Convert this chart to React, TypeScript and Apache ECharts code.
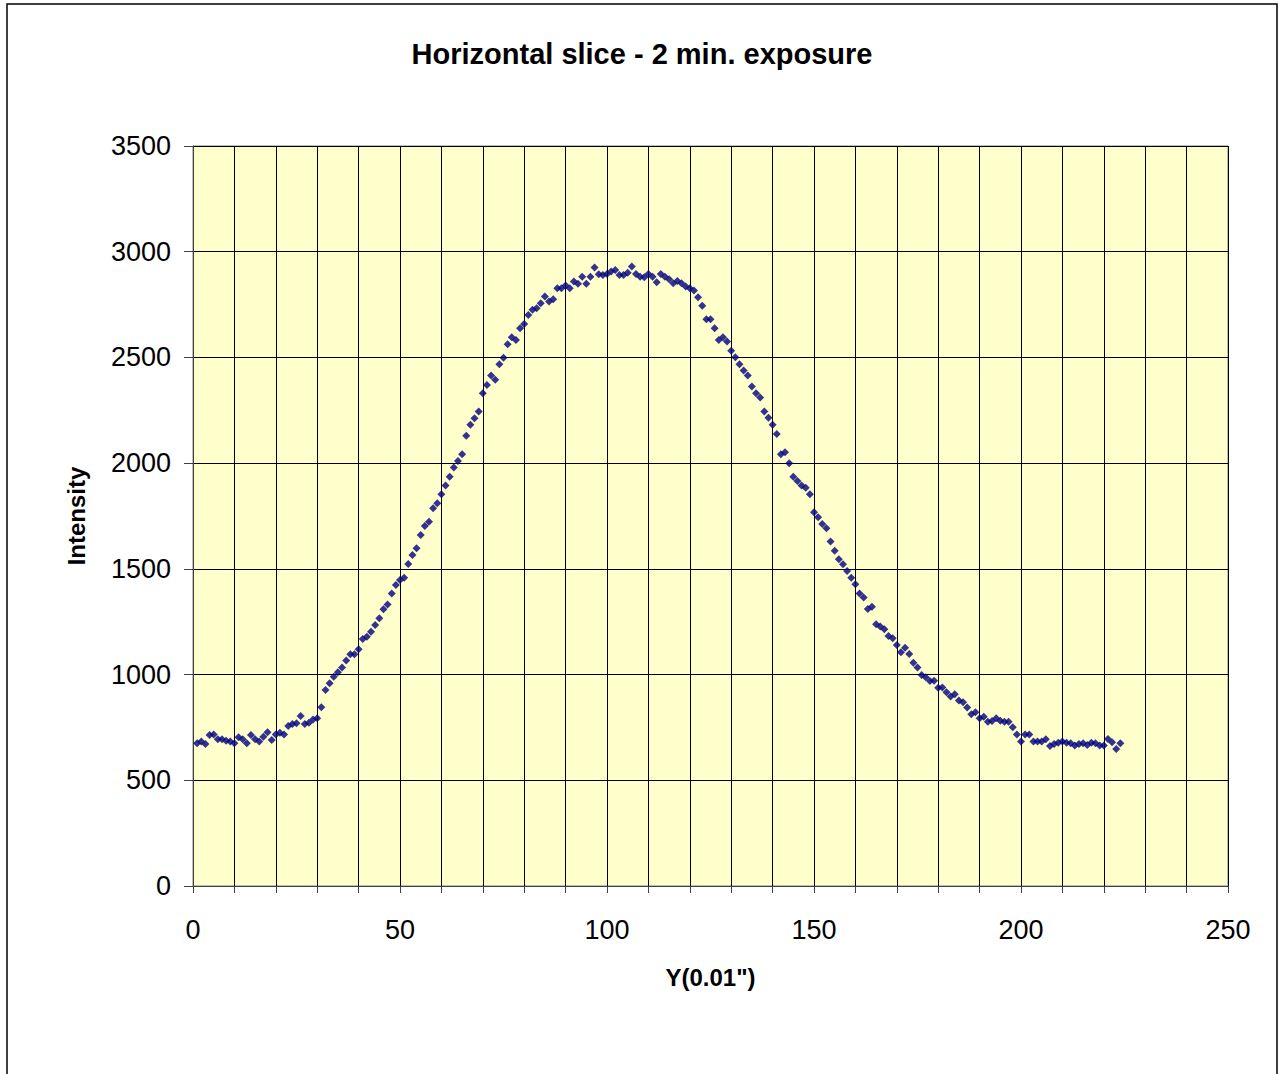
import React, { useEffect, useRef } from "react";
import * as echarts from "echarts";

const TITLE = "Horizontal slice - 2 min. exposure";
const X_NAME = 'Y(0.01")';
const Y_NAME = "Intensity";

const xValues: number[] = [
  1, 2, 3, 4, 5, 6, 7, 8, 9, 10, 11, 12, 13, 14, 15, 16, 17, 18, 19, 20,
  21, 22, 23, 24, 25, 26, 27, 28, 29, 30, 31, 32, 33, 34, 35, 36, 37, 38, 39, 40,
  41, 42, 43, 44, 45, 46, 47, 48, 49, 50, 51, 52, 53, 54, 55, 56, 57, 58, 59, 60,
  61, 62, 63, 64, 65, 66, 67, 68, 69, 70, 71, 72, 73, 74, 75, 76, 77, 78, 79, 80,
  81, 82, 83, 84, 85, 86, 87, 88, 89, 90, 91, 92, 93, 94, 95, 96, 97, 98, 99, 100,
  101, 102, 103, 104, 105, 106, 107, 108, 109, 110, 111, 112, 113, 114, 115, 116, 117, 118, 119, 120,
  121, 122, 123, 124, 125, 126, 127, 128, 129, 130, 131, 132, 133, 134, 135, 136, 137, 138, 139, 140,
  141, 142, 143, 144, 145, 146, 147, 148, 149, 150, 151, 152, 153, 154, 155, 156, 157, 158, 159, 160,
  161, 162, 163, 164, 165, 166, 167, 168, 169, 170, 171, 172, 173, 174, 175, 176, 177, 178, 179, 180,
  181, 182, 183, 184, 185, 186, 187, 188, 189, 190, 191, 192, 193, 194, 195, 196, 197, 198, 199, 200,
  201, 202, 203, 204, 205, 206, 207, 208, 209, 210, 211, 212, 213, 214, 215, 216, 217, 218, 219, 220,
  221, 222, 223, 224,
];

const intensity: number[] = [
  675, 683, 672, 714, 717, 694, 694, 687, 683, 675, 703, 694, 675, 714, 694, 683, 706, 727, 690, 717,
  725, 717, 757, 766, 770, 804, 766, 772, 788, 793, 845, 927, 959, 990, 1011, 1033, 1066, 1096, 1096, 1120,
  1168, 1179, 1203, 1235, 1266, 1309, 1332, 1384, 1424, 1447, 1458, 1523, 1566, 1597, 1660, 1703, 1723, 1787, 1810, 1853,
  1894, 1936, 1979, 2010, 2042, 2129, 2181, 2212, 2244, 2331, 2370, 2414, 2394, 2468, 2499, 2562, 2595, 2583, 2638, 2658,
  2701, 2725, 2733, 2756, 2788, 2764, 2775, 2827, 2827, 2840, 2827, 2859, 2848, 2882, 2848, 2882, 2925, 2893, 2890, 2895,
  2906, 2914, 2890, 2890, 2901, 2930, 2895, 2882, 2879, 2895, 2882, 2856, 2895, 2882, 2870, 2851, 2861, 2851, 2835, 2827,
  2816, 2785, 2745, 2680, 2680, 2638, 2583, 2595, 2575, 2532, 2501, 2468, 2438, 2414, 2362, 2330, 2310, 2244, 2215, 2181,
  2138, 2042, 2051, 2000, 1936, 1916, 1894, 1884, 1853, 1768, 1744, 1712, 1692, 1629, 1586, 1545, 1522, 1490, 1458, 1427,
  1384, 1364, 1310, 1321, 1238, 1227, 1214, 1183, 1172, 1140, 1105, 1127, 1097, 1056, 1033, 998, 987, 970, 971, 938,
  939, 916, 896, 907, 877, 869, 844, 812, 822, 793, 801, 777, 780, 793, 782, 777, 777, 751, 717, 683,
  717, 717, 683, 683, 683, 694, 662, 672, 678, 683, 678, 675, 664, 672, 675, 667, 678, 675, 664, 664,
  695, 680, 648, 675,
];

const X_MIN = 0;
const X_MAX = 250;
const X_GRID_STEP = 10;
const X_LABEL_STEP = 50;
const Y_MIN = 0;
const Y_MAX = 3500;
const Y_STEP = 500;

const FONT = "'Liberation Sans', Arial, sans-serif";

export default function App() {
  const ref = useRef<HTMLDivElement>(null);

  useEffect(() => {
    if (!ref.current) return;
    const chart = echarts.init(ref.current, undefined, { renderer: "svg" });
    const points = xValues.map((x, i) => [x, intensity[i]]);

    chart.setOption({
      animation: false,
      backgroundColor: "#ffffff",
      title: {
        text: TITLE,
        left: "center",
        top: 34,
        textStyle: {
          fontFamily: FONT,
          fontWeight: "bold",
          fontSize: 29,
          color: "#000000",
        },
      },
      graphic: [
        {
          type: "rect",
          shape: { x: 7, y: 4, width: 1270, height: 1090 },
          style: { fill: "none", stroke: "#000000", lineWidth: 1.5 },
          silent: true,
          z: 100,
        },
      ],
      grid: {
        left: 193,
        top: 146,
        right: 56,
        bottom: 188,
        show: true,
        backgroundColor: "#FFFFCC",
        borderColor: "#808080",
        borderWidth: 1,
      },
      xAxis: {
        type: "value",
        min: X_MIN,
        max: X_MAX,
        interval: X_GRID_STEP,
        name: X_NAME,
        nameLocation: "middle",
        nameGap: 79,
        nameTextStyle: {
          fontFamily: FONT,
          fontWeight: "bold",
          fontSize: 24,
          color: "#000000",
        },
        axisLine: { show: true, lineStyle: { color: "#404040", width: 1 } },
        axisTick: {
          show: true,
          length: 7,
          interval: (_i: number, v: number) => v % X_LABEL_STEP === 0,
          lineStyle: { color: "#404040" },
        },
        axisLabel: {
          margin: 30,
          fontFamily: FONT,
          fontSize: 27,
          color: "#000000",
          formatter: (v: number) => (v % X_LABEL_STEP === 0 ? String(v) : ""),
        },
        splitLine: { show: true, lineStyle: { color: "#000000", width: 1 } },
      },
      yAxis: {
        type: "value",
        min: Y_MIN,
        max: Y_MAX,
        interval: Y_STEP,
        name: Y_NAME,
        nameLocation: "middle",
        nameGap: 105,
        nameTextStyle: {
          fontFamily: FONT,
          fontWeight: "bold",
          fontSize: 24,
          color: "#000000",
        },
        axisLine: { show: true, lineStyle: { color: "#404040", width: 1 } },
        axisTick: { show: true, length: 9, lineStyle: { color: "#404040" } },
        axisLabel: {
          margin: 22,
          fontFamily: FONT,
          fontSize: 27,
          color: "#000000",
          formatter: (v: number) => String(v),
        },
        splitLine: { show: true, lineStyle: { color: "#000000", width: 1 } },
      },
      series: [
        {
          type: "scatter",
          data: points,
          symbol: "diamond",
          symbolSize: 8,
          itemStyle: { color: "#000080" },
        },
      ],
    });

    return () => chart.dispose();
  }, []);

  return (
    <div
      ref={ref}
      style={{ position: "fixed", left: 0, top: 0, width: 1284, height: 1074 }}
    />
  );
}
